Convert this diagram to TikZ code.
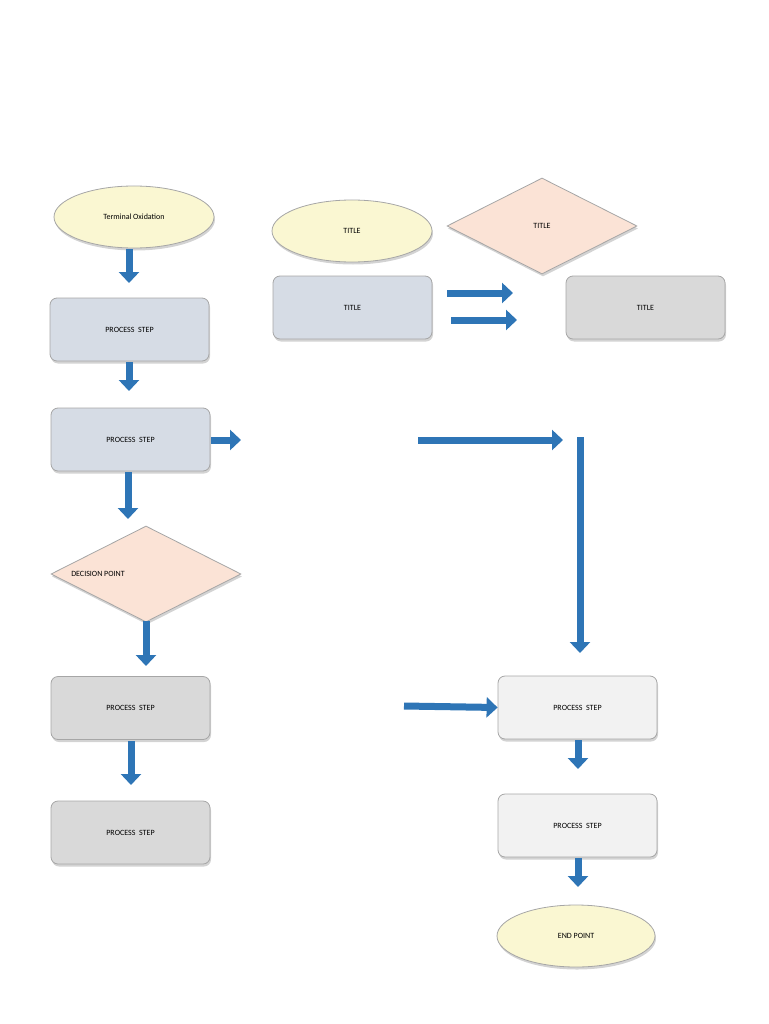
\documentclass[tikz,border=0pt]{standalone}
\usepackage{fontspec}
\setmainfont{Carlito}
\usetikzlibrary{shapes.geometric,shadows,arrows.meta}
\begin{document}
\begin{tikzpicture}[x=1pt,y=-1pt,
  base/.style={draw=black!35,line width=0.8pt,font=\fontsize{8}{9}\selectfont,drop shadow={shadow xshift=1pt,shadow yshift=-2.5pt,opacity=0.35}},
  box/.style={base,rounded corners=7pt,minimum width=159pt,minimum height=63pt},
  oval/.style={base,ellipse,fill=ovalc,minimum width=160pt,minimum height=62pt},
  dia/.style={base,diamond,aspect=2,fill=diac,minimum width=190pt,minimum height=96pt},
  arr/.style={draw=arrc,line width=7pt,-{Triangle[width=20pt,length=11pt]}}]
\definecolor{ovalc}{HTML}{FAF7D2}
\definecolor{diac}{HTML}{FBE3D6}
\definecolor{bluec}{HTML}{D6DCE5}
\definecolor{grayc}{HTML}{D9D9D9}
\definecolor{lightc}{HTML}{F2F2F2}
\definecolor{arrc}{HTML}{2E75B6}
\useasboundingbox (0,0) rectangle (768,1024);
\node[oval] (t) at (134,217) {Terminal Oxidation};
\node[box,fill=bluec] (p1) at (129.5,329.5) {PROCESS\ \ STEP};
\node[box,fill=bluec] (p2) at (130.5,439.5) {PROCESS\ \ STEP};
\node[dia] (d) at (146,574) {};
\node at (98,573.5) [font=\fontsize{8}{9}\selectfont] {DECISION POINT};
\node[box,fill=grayc] (p3) at (130.5,708) {PROCESS\ \ STEP};
\node[box,fill=grayc] (p4) at (130.5,832.5) {PROCESS\ \ STEP};
\node[oval] (t1) at (352,231) {TITLE};
\node[dia] (t2) at (542,226) {TITLE};
\node[box,fill=bluec] (t3) at (352.5,307.5) {TITLE};
\node[box,fill=grayc] (t4) at (645.5,307.5) {TITLE};
\node[box,fill=lightc] (p5) at (577.5,707.5) {PROCESS\ \ STEP};
\node[box,fill=lightc] (p6) at (577.5,825.5) {PROCESS\ \ STEP};
\node[oval,minimum width=158pt] (e) at (576,936) {END POINT};
\coordinate (a1) at (418,440); \coordinate (a2) at (563,440);
\coordinate (b1) at (580,437); \coordinate (b2) at (580,653);
\coordinate (c1) at (404,706);
\coordinate (m1) at (447,293); \coordinate (m2) at (513,293);
\coordinate (n1) at (451,320); \coordinate (n2) at (517,320);
\coordinate (r2) at (241,440);
\draw[arr] (129,249) -- (129,283);
\draw[arr] (129,362) -- (129,391);
\draw[arr] (211,440) -- (r2);
\draw[arr] (128,472) -- (128,519);
\draw[arr] (146,621) -- (146,666);
\draw[arr] (131,741) -- (131,785);
\draw[arr] (m1) -- (m2);
\draw[arr] (n1) -- (n2);
\draw[arr] (a1) -- (a2);
\draw[arr] (b1) -- (b2);
\draw[arr] (c1) -- (p5.west);
\draw[arr] (578,740) -- (578,769);
\draw[arr] (578,858) -- (578,887);
\end{tikzpicture}
\end{document}
